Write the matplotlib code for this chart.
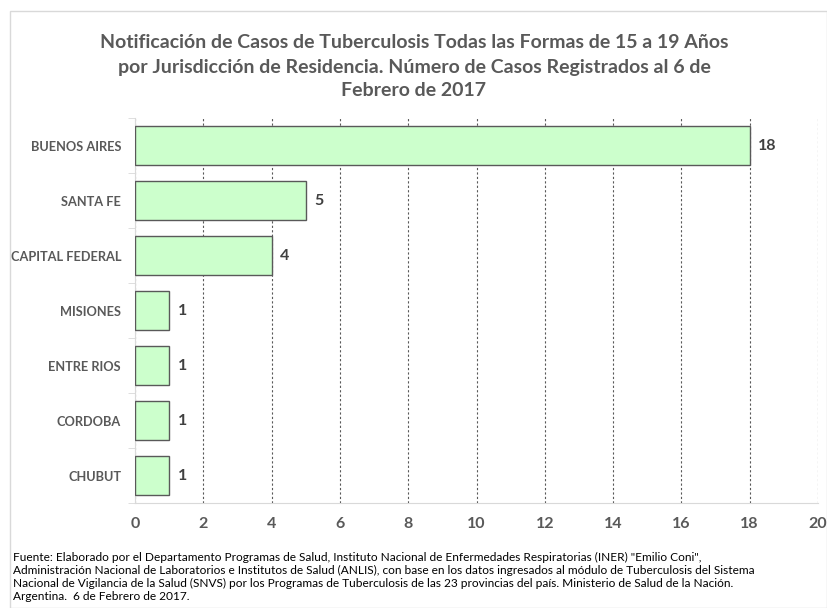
import matplotlib
matplotlib.use("Agg")
import matplotlib.pyplot as plt
from matplotlib.patches import Rectangle

categories = ["BUENOS AIRES", "SANTA FE", "CAPITAL FEDERAL", "MISIONES", "ENTRE RIOS", "CORDOBA", "CHUBUT"]
values = [18, 5, 4, 1, 1, 1, 1]
xticks = [0, 2, 4, 6, 8, 10, 12, 14, 16, 18, 20]

title = ("Notificación de Casos de Tuberculosis Todas las Formas de 15 a 19 Años\n"
         "por Jurisdicción de Residencia. Número de Casos Registrados al 6 de\n"
         "Febrero de 2017")
source = ('Fuente: Elaborado por el Departamento Programas de Salud, Instituto Nacional de Enfermedades Respiratorias (INER) "Emilio Coni",\n'
          'Administración Nacional de Laboratorios e Institutos de Salud (ANLIS), con base en los datos ingresados al módulo de Tuberculosis del Sistema\n'
          'Nacional de Vigilancia de la Salud (SNVS) por los Programas de Tuberculosis de las 23 provincias del país. Ministerio de Salud de la Nación.\n'
          'Argentina.  6 de Febrero de 2017.')

plt.rcParams['font.family'] = ['Lato', 'DejaVu Sans']
W, H = 828, 608
fig = plt.figure(figsize=(W/100, H/100), dpi=100)

# chart border
fig.patches.append(Rectangle((10/W, 0), (W-11)/W, (H-11)/H, transform=fig.transFigure,
                             fill=False, edgecolor="#d9d9d9", linewidth=1))

ax = fig.add_axes([135/W, 1-503/H, (818-135)/W, (503-118)/H])
y = list(range(len(categories)))
ax.barh(y, values, height=0.7, color="#CCFFCC", edgecolor="#595959", linewidth=1, zorder=3)
ax.set_ylim(len(categories)-0.5, -0.5)
ax.set_xlim(0, 20)
ax.set_xticks(xticks)
ax.set_xticklabels([str(t) for t in xticks], fontsize=11.5, fontweight="bold", color="#595959")
ax.set_yticks(y)
ax.set_yticklabels(categories, fontsize=9.2, fontweight="bold", color="#595959")
ax.set_yticks([i + 0.5 for i in range(-1, len(categories))], minor=True)
ax.tick_params(axis="y", which="major", length=0, pad=10)
ax.tick_params(axis="y", which="minor", length=5, color="#d9d9d9")
ax.tick_params(axis="x", length=0, pad=10)
ax.grid(axis="x", color="#595959", linestyle=(0, (2, 2)), linewidth=0.8, zorder=0)
for s in ["top", "right"]:
    ax.spines[s].set_visible(False)
ax.spines["left"].set_color("#d9d9d9")
ax.spines["bottom"].set_color("#d9d9d9")

for yi, v in zip(y, values):
    ax.text(v + 0.25, yi, str(v), va="center", ha="left", fontsize=11.5, fontweight="bold", color="#404040", zorder=4)

fig.text(0.5, 1-67/H, title, ha="center", va="center", fontsize=14, fontweight="bold",
         color="#595959", linespacing=1.5)
fig.text(13/W, 1-577/H, source, ha="left", va="center", fontsize=8.6, color="#000000", linespacing=1.25)

fig.savefig("out.png", dpi=100)
